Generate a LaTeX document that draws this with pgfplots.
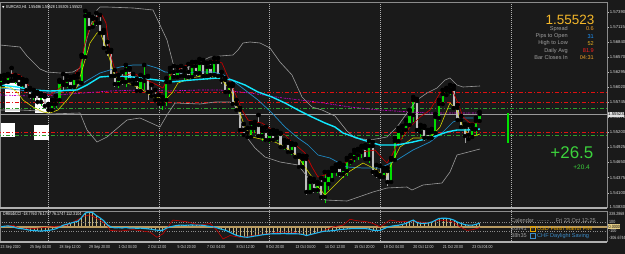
\documentclass[border=0pt]{standalone}
\usepackage{fontspec}
\setmainfont{Liberation Sans}
\newfontfamily\narrow[FakeStretch=0.8]{Liberation Sans}
\newfontfamily\dejavu{DejaVu Sans}
\usepackage{pgfplots}
\pgfplotsset{compat=1.18}
\usepackage{pgfplotstable}

\definecolor{bg}{HTML}{1A1A1A}
\definecolor{bull}{HTML}{00E000}
\definecolor{bearfill}{HTML}{BEBEBE}
\definecolor{bearwick}{HTML}{A0A0A0}
\definecolor{bband}{HTML}{9A9A9A}
\definecolor{mared}{HTML}{C00000}
\definecolor{mayel}{HTML}{D4D400}
\definecolor{macyan}{HTML}{10E8FF}
\definecolor{mablue}{HTML}{1E8CC8}
\definecolor{magen}{HTML}{C800C8}
\definecolor{lvred}{HTML}{E01010}
\definecolor{lvgreen}{HTML}{2E9E2E}
\definecolor{gold}{HTML}{F5B82A}
\definecolor{lime}{HTML}{3CD23C}
\definecolor{ccicyan}{HTML}{1EB8F0}
\definecolor{ccired}{HTML}{C80000}
\definecolor{cciband}{HTML}{B89A60}
\definecolor{histo}{HTML}{C8B478}
\definecolor{txtgray}{HTML}{A0A0A0}
\definecolor{framegray}{HTML}{8C8C8C}
\definecolor{sepgray}{HTML}{B0B0B0}
\definecolor{calorange}{HTML}{E0A000}
\definecolor{calblue}{HTML}{3C8CC8}
\definecolor{vorange}{HTML}{F0A028}
\definecolor{vblue}{HTML}{1E96FF}
\definecolor{vgold}{HTML}{E8B020}
\definecolor{vred}{HTML}{FF2020}
\definecolor{zerobox}{HTML}{E8D088}

% pixel column of the screenshot -> bar index
\newcommand{\IX}[1]{((#1)-0.53)/3.685}

% H4 candles: bar index, open, high, low, close
% (values are screen rows of the price scale: row = (1.576095 - price)/0.00018212)
\pgfplotstableread{
i o h l c
0 84 76 87 79
1 79 75 85 82
2 82 74 84 76
3 76 68 82 80
4 80 75 84 78
5 78 77 86 84
6 84 79 88 82
7 82 80 93 90
8 90 88 99 96
9 96 90 100 94
10 94 92 105 102
11 102 94 106 96
12 97 95 109 106
13 106 104 113 110
14 110 100 112 104
15 104 96 108 100
16 100 80 103 82
17 82 74 90 85
18 85 76 88 80
19 80 77 90 87
20 87 76 89 78
21 78 74 86 82
22 83 55 85 57
23 57 11 60 16
24 16 14 30 28
25 27 17 29 19
26 19 13 26 23
27 23 15 35 33
28 33 30 50 48
29 48 42 56 52
30 52 50 78 76
31 76 70 87 84
32 84 75 88 79
33 79 72 85 82
34 82 65 87 70
35 70 68 82 80
36 80 74 86 84
37 84 79 93 91
38 91 75 93 80
39 81 65 90 77
40 77 76 100 92
41 92 85 98 96
42 96 90 101 100
43 100 95 108 104
44 104 97 110 100
45 100 78 106 82
46 82 68 84 72
47 72 66 79 77
48 77 67 79 71
49 71 66 78 76
50 76 68 80 72
51 72 64 78 77
52 77 62 78 66
53 66 62 76 73
54 73 59 77 63
55 63 60 80 76
56 76 63 80 67
57 67 62 78 75
58 75 58 77 62
59 62 58 79 76
60 76 72 84 80
61 80 78 94 92
62 92 84 97 86
63 86 84 106 104
64 104 100 112 110
65 110 108 132 130
66 130 124 137 135
67 133 128 139 137
68 137 123 139 128
69 128 122 133 125
70 125 115 139 136
71 136 128 141 131
72 131 127 142 140
73 140 131 143 134
74 134 130 142 140
75 138 131 141 134
76 134 133 149 147
77 147 140 150 143
78 143 141 154 152
79 152 143 155 145
80 145 144 159 157
81 157 155 169 167
82 167 156 168 159
83 159 156 195 192
84 192 178 194 182
85 182 179 193 190
86 190 182 193 184
87 184 178 200 197
88 197 172 203 180
89 184 172 190 175
90 180 168 182 171
91 171 165 176 168
92 167 163 177 174
93 174 165 178 169
94 171 158 176 160
95 162 155 165 157
96 158 150 162 153
97 155 149 160 151
98 152 146 158 148
99 148 145 161 159
100 159 141 163 146
101 146 142 175 172
102 172 165 178 175
103 175 166 180 177
104 177 168 179 171
105 171 168 186 182
106 182 158 183 160
107 160 138 162 141
108 141 128 146 131
109 133 126 139 129
110 130 120 133 124
111 125 110 128 114
112 115 97 122 100
113 101 99 133 130
114 132 125 137 128
115 128 126 141 138
116 133 130 140 138
117 138 129 139 132
118 133 114 137 117
119 118 100 121 104
120 104 90 105 94
121 95 88 97 91
122 92 85 95 89
123 89 86 110 108
124 108 105 122 120
125 120 116 129 127
126 127 124 143 136
127 135 125 141 139
128 137 125 139 129
129 129 118 136 121
130 121 112 123 114
}\candles

\pgfplotstableread{
x y
0 45
20 47
27 56
33 62
40 69
47 72
60 73
73 72
80 68
87 38
92 22
97 10
100 7
107 7
133 8
153 10
160 25
167 40
173 63
177 70
187 68
200 62
210 57
220 56
233 55
238 50
243 43
250 42
260 43
270 48
280 62
292 75
302 97
312 107
322 110
335 116
347 131
355 138
370 140
387 137
397 127
407 113
417 100
427 93
437 88
445 80
450 78
457 85
463 87
480 86
}\ubb

\pgfplotstableread{
x y
0 110
20 110
40 111
50 114
80 113
87 130
97 142
107 137
127 120
140 118
160 127
167 115
175 103
200 104
215 102
230 102
237 108
245 135
255 148
265 157
280 162
298 165
310 180
325 200
347 201
373 192
387 188
407 187
412 190
423 185
442 183
450 172
457 155
480 149
}\lbb

\pgfplotstableread{
x y
0 80
7 78
13 73
20 75
25 80
30 88
40 92
50 95
60 88
67 80
73 77
80 67
85 43
90 27
97 17
102 15
106 23
110 53
115 70
120 77
133 73
143 78
153 83
163 88
167 80
173 72
187 65
200 63
215 60
222 63
228 77
235 93
242 110
248 120
255 122
262 123
272 130
278 132
285 135
292 142
298 147
305 153
312 167
318 177
325 175
332 170
347 162
363 152
375 150
382 158
387 163
392 155
397 145
410 127
420 117
430 110
440 93
445 88
453 92
458 103
463 117
470 123
480 123
}\redma

\pgfplotstableread{
x y
0 88
10 87
17 92
23 100
33 107
43 112
50 113
58 110
67 100
77 87
83 67
90 43
97 33
100 32
103 40
107 50
112 67
115 77
120 80
127 83
133 85
143 90
153 97
160 98
165 100
172 93
178 83
192 78
205 75
215 77
222 80
228 87
232 93
235 103
240 113
245 127
252 137
265 140
275 142
285 147
292 152
298 157
305 167
312 177
318 187
325 195
332 188
347 173
363 163
377 170
385 178
390 167
400 147
413 138
430 138
440 127
450 103
457 110
463 127
470 137
480 134
}\yelma

\pgfplotstableread{
x y
0 85
17 87
33 90
50 91
77 90
87 85
100 77
113 76
133 77
157 80
170 82
192 80
205 79
218 78
232 80
245 85
258 92
272 97
285 103
298 110
312 117
325 123
335 127
343 133
363 140
380 145
397 145
413 142
430 138
447 132
457 130
467 130
480 129
}\cyanma

\pgfplotstableread{
x y
0 88
20 90
40 93
55 93
75 88
88 80
100 73
120 67
133 65
147 65
157 68
165 72
180 73
198 72
212 72
222 74
232 80
245 90
258 100
272 113
285 127
298 138
308 145
318 155
330 158
347 167
363 168
380 168
397 160
413 150
430 142
443 132
453 122
463 118
480 118
}\bluema

\pgfplotstableread{
x y
0 95
30 96
57 95
83 93
110 91
140 90
167 91
200 90
220 90
250 93
283 98
317 102
350 107
380 110
410 112
430 113
478 113
}\magma

% CCI per bar
\pgfplotstableread{
i v
0 -4
1 10
2 18
3 5
4 -20
5 -38
6 -45
7 -60
8 -75
9 -80
10 -88
11 -93
12 -85
13 -80
14 -65
15 -45
16 -10
17 33
18 55
19 75
20 100
21 120
22 200
23 295
24 315
25 305
26 240
27 190
28 130
29 40
30 -5
31 -25
32 -20
33 -28
34 -15
35 -30
36 -27
37 -35
38 -30
39 -38
40 -45
41 -55
42 -70
43 -78
44 -75
45 -30
46 -4
47 15
48 30
49 35
50 30
51 35
52 38
53 33
54 35
55 30
56 15
57 5
58 -5
59 -30
60 -55
61 -75
62 -110
63 -150
64 -185
65 -205
66 -220
67 -227
68 -215
69 -200
70 -190
71 -175
72 -165
73 -155
74 -150
75 -152
76 -150
77 -148
78 -152
79 -150
80 -150
81 -155
82 -165
83 -190
84 -170
85 -150
86 -130
87 -110
88 -95
89 -92
90 -85
91 -75
92 -62
93 -55
94 -48
95 -42
96 -40
97 -38
98 -40
99 -40
100 -50
101 -75
102 -78
103 -78
104 -45
105 -10
106 10
107 25
108 33
109 50
110 70
111 110
112 144
113 90
114 71
115 71
116 80
117 100
118 140
119 180
120 182
121 182
122 170
123 144
124 100
125 71
126 45
127 33
128 33
129 50
130 76
}\cci

\pgfplotstableread{
x v
0 -4
13 33
20 -40
33 -40
50 -4
67 33
77 144
83 218
90 255
100 144
107 33
110 -78
120 -93
133 -62
150 -116
157 -227
163 -151
173 144
187 107
200 33
210 71
217 -78
223 -262
230 -189
240 -227
253 -189
267 -151
280 -116
293 -116
307 -189
320 -116
333 -4
343 33
350 160
357 129
367 107
373 71
380 -4
390 144
400 107
413 122
427 84
440 144
453 107
460 -4
467 -78
473 -62
480 -19
}\ccislow

\begin{document}
\begin{tikzpicture}
\useasboundingbox (0bp,0bp) rectangle (625bp,254bp);
\fill[bg] (0bp,0bp) rectangle (625bp,254bp);
\begin{scope}[x=1bp,y=1bp]
\foreach \xx in {48.4,159,269.5,380.1,511}{
  \draw[sepgray, dash pattern=on 1bp off 1bp, line width=0.5bp] (\xx,13) -- (\xx,252);}
% white object label boxes (behind the chart lines)
\fill[white] (5,142) rectangle (20,171);
\fill[white] (35,141) rectangle (50,156);
\fill[white] (0,117) rectangle (15,131);
\fill[white] (34,114) rectangle (49,129);
\end{scope}

\begin{axis}[
  at={(0bp,47bp)}, anchor=south west,
  scale only axis, width=607bp, height=205bp,
  xmin=-0.144, xmax=164.58, ymin=2, ymax=207, y dir=reverse,
  axis line style={draw=framegray, line width=0.6bp},
  xtick=\empty,
  ytick={12.05,27.15,42.25,57.08,72.18,87.28,102.38,117.48,132.3,147.4,162.5,177.6,192.7},
  yticklabels={1.57390,1.57115,1.56840,1.56570,1.56295,1.56020,1.55745,1.55470,1.55200,1.54925,1.54650,1.54375,1.54100},
  yticklabel pos=right,
  tick align=outside, major tick length=2bp,
  ytick style={draw=white!75!black, line width=0.4bp},
  yticklabel style={font=\fontsize{4.3}{5}\selectfont, text=white!85!black, inner sep=0.6bp},
]
% horizontal levels (screen rows)
\addplot[lvred, line width=0.8bp, dash pattern=on 4bp off 2bp on 1bp off 2bp] coordinates {(-1,92) (170,92)};
\addplot[lvred, line width=0.8bp, dash pattern=on 4bp off 2bp on 1bp off 2bp] coordinates {(-1,102) (170,102)};
\addplot[lvgreen, line width=0.7bp, dash pattern=on 4bp off 2bp on 1bp off 2bp] coordinates {(-1,108) (170,108)};
\addplot[white!60!black, line width=0.6bp] coordinates {(-1,114.5) (170,114.5)};
\addplot[lvred, line width=0.8bp, dash pattern=on 4bp off 2bp on 1bp off 2bp] coordinates {(-1,132) (170,132)};
\addplot[lvgreen, line width=0.7bp, dash pattern=on 4bp off 2bp on 1bp off 2bp] coordinates {(-1,135) (170,135)};
% wicks
\addplot[only marks, mark=none, error bars/.cd, y dir=plus, y explicit, error mark=none,
  error bar style={line width=0.6bp, bull}]
  table[x=i, y=h, y error plus expr={(\thisrow{o}>\thisrow{c})*(\thisrow{l}-\thisrow{h})}] {\candles};
\addplot[only marks, mark=none, error bars/.cd, y dir=plus, y explicit, error mark=none,
  error bar style={line width=0.6bp, bearwick}]
  table[x=i, y=h, y error plus expr={(\thisrow{o}<\thisrow{c})*(\thisrow{l}-\thisrow{h})}] {\candles};
% bodies
\addplot[only marks, mark=none, error bars/.cd, y dir=plus, y explicit, error mark=none,
  error bar style={line width=2.2bp, bull}]
  table[x=i, y=c, y error plus expr={max(\thisrow{o}-\thisrow{c},0)}] {\candles};
\addplot[only marks, mark=none, error bars/.cd, y dir=plus, y explicit, error mark=none,
  error bar style={line width=2.2bp, bearfill}]
  table[x=i, y=o, y error plus expr={max(\thisrow{c}-\thisrow{o},0)}] {\candles};
% indicators
\addplot[bband, line width=0.6bp] table[x expr=\IX{\thisrow{x}}, y=y] {\ubb};
\addplot[bband, line width=0.6bp] table[x expr=\IX{\thisrow{x}}, y=y] {\lbb};
\addplot[magen, line width=0.7bp, dash pattern=on 2bp off 1bp on 0.6bp off 1bp] table[x expr=\IX{\thisrow{x}}, y=y] {\magma};
\addplot[mablue, line width=0.7bp] table[x expr=\IX{\thisrow{x}}, y=y] {\bluema};
\addplot[mared, line width=0.7bp] table[x expr=\IX{\thisrow{x}}, y=y] {\redma};
\addplot[mayel, line width=0.6bp] table[x expr=\IX{\thisrow{x}}, y=y] {\yelma};
\addplot[macyan, line width=1.4bp] table[x expr=\IX{\thisrow{x}}, y=y] {\cyanma};
\addplot[bull, line width=1.3bp] coordinates {(137.7,113) (137.7,143)};
\end{axis}

\begin{axis}[
  at={(0bp,13bp)}, anchor=south west,
  scale only axis, width=607bp, height=30bp,
  xmin=-0.144, xmax=164.58, ymin=-306.6744, ymax=338.2868,
  axis line style={draw=framegray, line width=0.6bp},
  ytick=\empty,
  xtick={0,8,...,128},
  xticklabels={23 Sep 2020,25 Sep 04:00,28 Sep 12:00,29 Sep 20:00,1 Oct 04:00,2 Oct 12:00,5 Oct 20:00,7 Oct 04:00,8 Oct 12:00,9 Oct 20:00,13 Oct 04:00,14 Oct 12:00,15 Oct 20:00,19 Oct 04:00,20 Oct 12:00,21 Oct 20:00,23 Oct 04:00},
  major tick length=0pt,
  xticklabel style={font=\narrow\fontsize{4.4}{5}\selectfont, text=white!85!black, anchor=north west, inner sep=0pt, yshift=-4.5bp},
]
\addplot[histo, ycomb, line width=0.35bp] table[x=i, y=v] {\cci};
\addplot[white!55!black, dotted, line width=0.4bp] coordinates {(-1,100) (170,100)};
\addplot[white!55!black, dotted, line width=0.4bp] coordinates {(-1,-100) (170,-100)};
\addplot[cciband, line width=1.8bp] coordinates {(-1,0) (170,0)};
\addplot[ccired, line width=0.6bp] table[x expr=\IX{\thisrow{x}}, y=v] {\ccislow};
\addplot[ccicyan, line width=1.1bp] table[x=i, y=v] {\cci};
\end{axis}

\begin{scope}[x=1bp,y=1bp]
% separators
\fill[sepgray] (0,44.6) rectangle (607,46.6);
\fill[sepgray] (0,10.6) rectangle (607,12.8);

% title
\node[anchor=west, inner sep=0, text=white] at (2,247)
  {{\dejavu\fontsize{3.2}{4}\selectfont ▼}\,{\narrow\fontsize{4.4}{5}\selectfont EURCAD,H4\ \ 1.55486 1.55528 1.55305 1.55523}};
\node[anchor=west, inner sep=0, text=white] at (3,40.3)
  {\narrow\fontsize{4.6}{5}\selectfont DRBobCCI -18.7760 76.1747 76.1747 112.3104};

% info panel
\node[anchor=east, inner sep=0, text=gold, font=\fontsize{13.5}{14}\selectfont] at (594.5,234) {1.55523};
\begin{scope}[font=\fontsize{5.6}{6}\selectfont]
\node[anchor=east, inner sep=0, text=txtgray] at (568,225) {Spread};
\node[anchor=east, inner sep=0, text=txtgray] at (568,217.7) {Pips to Open};
\node[anchor=east, inner sep=0, text=txtgray] at (568,210.5) {High to Low};
\node[anchor=east, inner sep=0, text=txtgray] at (568,203.2) {Daily Avg};
\node[anchor=east, inner sep=0, text=txtgray] at (568,196) {Bar Closes In};
\node[anchor=east, inner sep=0, text=vorange] at (594,225) {0.6};
\node[anchor=east, inner sep=0, text=vblue] at (594,217.7) {31};
\node[anchor=east, inner sep=0, text=vgold] at (594,210.5) {52};
\node[anchor=east, inner sep=0, text=vred] at (594,203.2) {81.9};
\node[anchor=east, inner sep=0, text=vorange] at (594,196) {04:31};
\end{scope}
\node[anchor=east, inner sep=0, text=lime, font=\fontsize{17}{18}\selectfont] at (593.5,101) {+26.5};
\node[anchor=east, inner sep=0, text=lime, font=\fontsize{6.5}{7}\selectfont] at (590,87) {+20.4};

% price axis extras
\node[anchor=west, inner sep=0, text=white!85!black, font=\fontsize{4.3}{5}\selectfont] at (609.5,46.5) {1.53830};
\node[anchor=west, fill=white!88!black, text=black, inner sep=0.5bp, font=\fontsize{4.3}{5}\selectfont] at (607.5,139.5) {1.55523};

% CCI axis labels
\begin{scope}[font=\narrow\fontsize{4.6}{5}\selectfont]
\node[anchor=west, inner sep=0, text=white!85!black] at (609,40.5) {338.2868};
\node[anchor=west, inner sep=0, text=white!85!black] at (609,32) {100};
\node[anchor=west, fill=zerobox, text=black, inner sep=0.5bp] at (608,27.5) {0.0000};
\node[anchor=west, inner sep=0, text=white!85!black] at (609,23) {-100};
\node[anchor=west, inner sep=0, text=white!85!black] at (609,16) {-306.6744};
\end{scope}

% calendar block
\begin{scope}[font=\fontsize{5.6}{6}\selectfont]
\node[anchor=west, inner sep=0, text=txtgray] at (511,33) {Calendar};
\node[anchor=west, inner sep=0, text=txtgray] at (537,33) {........};
\node[anchor=east, inner sep=0, text=txtgray] at (596,33) {Fri 23 Oct 12:25};
\node[anchor=west, inner sep=0, text=txtgray] at (511,25) {20h41};
\draw[draw=calorange, line width=0.4bp] (530,23) rectangle (535,27.5);
\node[inner sep=0, text=calorange, font=\fontsize{3.5}{4}\selectfont] at (532.5,25.2) {!!};
\node[anchor=west, inner sep=0, text=calorange] at (537,25) {USD Flash Manuf PMI};
\node[anchor=west, inner sep=0, text=txtgray] at (511,18) {38h35};
\draw[draw=calblue, line width=0.4bp] (530,16) rectangle (535,20.5);
\node[anchor=west, inner sep=0, text=calblue] at (537,18) {CHF Daylight Saving};
\end{scope}
\end{scope}
\end{tikzpicture}
\end{document}
